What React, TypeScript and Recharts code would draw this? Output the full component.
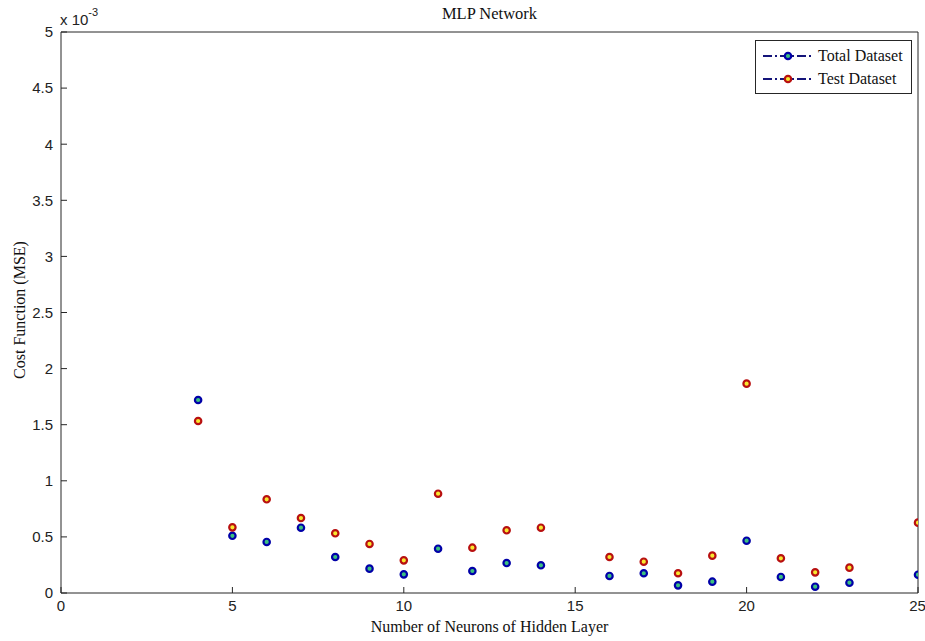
import React from 'react'
import {
  ScatterChart, Scatter, XAxis, YAxis, Legend, Label,
} from 'recharts'

// neurons in hidden layer (no runs at 15 and 24)
const neurons = [4, 5, 6, 7, 8, 9, 10, 11, 12, 13, 14, 16, 17, 18, 19, 20, 21, 22, 23, 25]
// MSE values, in units of 1e-3
const totalMse = [1.72, 0.51, 0.455, 0.582, 0.321, 0.217, 0.166, 0.395, 0.196, 0.267, 0.247, 0.152, 0.176, 0.068, 0.101, 0.466, 0.143, 0.056, 0.092, 0.163]
const testMse = [1.533, 0.585, 0.835, 0.668, 0.532, 0.437, 0.291, 0.885, 0.404, 0.559, 0.582, 0.321, 0.279, 0.176, 0.333, 1.866, 0.309, 0.184, 0.226, 0.627]

const xTicks = [0, 5, 10, 15, 20, 25]
const yTicks = [0, 0.5, 1, 1.5, 2, 2.5, 3, 3.5, 4, 4.5, 5]

const totalData = neurons.map((n, i) => ({ n, mse: totalMse[i] }))
const testData = neurons.map((n, i) => ({ n, mse: testMse[i] }))

const AXIS = '#262626'
const SERIF = '"Liberation Serif", "Times New Roman", serif'
const SANS = '"Liberation Sans", Arial, sans-serif'

const TOTAL = { edge: '#0000a8', face: '#3cc080' }
const TEST = { edge: '#b81010', face: '#f8e830' }

const marker = (c: { edge: string; face: string }) => (props: any) => (
  <circle cx={props.cx} cy={props.cy} r={3.2} fill={c.face} stroke={c.edge} strokeWidth={2.2} />
)

function LegendBox() {
  const rows = [
    { name: 'Total Dataset', c: TOTAL },
    { name: 'Test Dataset', c: TEST },
  ]
  return (
    <div style={{ border: `1px solid ${AXIS}`, background: '#fff', padding: '3px 6px 3px 7px', width: 142 }}>
      {rows.map(r => (
        <div key={r.name} style={{ display: 'flex', alignItems: 'center', height: 23 }}>
          <svg width={50} height={12} style={{ marginRight: 5 }}>
            <line x1={0} y1={6} x2={48} y2={6} stroke="#14147a" strokeWidth={1.8} strokeDasharray="9 3 2 3" />
            <circle cx={25} cy={6} r={3.2} fill={r.c.face} stroke={r.c.edge} strokeWidth={2.2} />
          </svg>
          <span style={{ fontFamily: SERIF, fontSize: 16, color: '#111' }}>{r.name}</span>
        </div>
      ))}
    </div>
  )
}

export default function App() {
  return (
    <div style={{ position: 'absolute', left: 0, top: 0, width: 925, height: 641, background: '#fff' }}>
      <ScatterChart width={925} height={641} margin={{ top: 31, right: 6, bottom: 0, left: 0 }}>
        <XAxis
          type="number" dataKey="n" domain={[0, 25]} ticks={xTicks} allowDataOverflow
          height={48} stroke={AXIS} tickSize={-6} tickMargin={13}
          tick={{ fill: '#222', fontSize: 15, fontFamily: SANS }}
        >
          <Label value="Number of Neurons of Hidden Layer" position="insideBottom" offset={9}
            style={{ fontFamily: SERIF, fontSize: 16, fill: '#111' }} />
        </XAxis>
        <XAxis
          xAxisId="top" orientation="top" type="number" dataKey="n" domain={[0, 25]} ticks={xTicks}
          allowDataOverflow height={1} stroke={AXIS} tickSize={-6} tick={false}
        >
          <Label value="MLP Network" position="top" offset={12}
            style={{ fontFamily: SERIF, fontSize: 16.5, fill: '#111' }} />
        </XAxis>
        <YAxis
          type="number" dataKey="mse" domain={[0, 5]} ticks={yTicks} allowDataOverflow
          width={61} stroke={AXIS} tickSize={-6} tickMargin={14}
          tick={{ fill: '#222', fontSize: 15, fontFamily: SANS }}
        >
          <Label content={() => (
            <text x={19} y={310} transform="rotate(-90 19 310)" textAnchor="middle" dominantBaseline="central"
              style={{ fontFamily: SERIF, fontSize: 16, fill: '#111' }}>
              Cost Function (MSE)
            </text>
          )} />
          <Label content={() => (
            <text x={60} y={25} style={{ fontFamily: SANS, fontSize: 15, fill: '#222' }}>
              x 10<tspan dy={-9} fontSize={11}>-3</tspan>
            </text>
          )} />
        </YAxis>
        <YAxis
          yAxisId="right" orientation="right" type="number" dataKey="mse" domain={[0, 5]} ticks={yTicks}
          allowDataOverflow width={1} stroke={AXIS} tickSize={-6} tick={false}
        />
        <Legend
          layout="vertical" align="center" verticalAlign="middle"
          wrapperStyle={{ left: 755, top: 40, width: 157 }}
          content={() => <LegendBox />}
        />
        <Scatter name="Total Dataset" data={totalData} shape={marker(TOTAL)} isAnimationActive={false} />
        <Scatter name="Test Dataset" data={testData} shape={marker(TEST)} isAnimationActive={false} />
        {/* binds the top/right frame axes so they get drawn */}
        <Scatter name="frame" xAxisId="top" yAxisId="right" data={[]} legendType="none" isAnimationActive={false} />
      </ScatterChart>
    </div>
  )
}
